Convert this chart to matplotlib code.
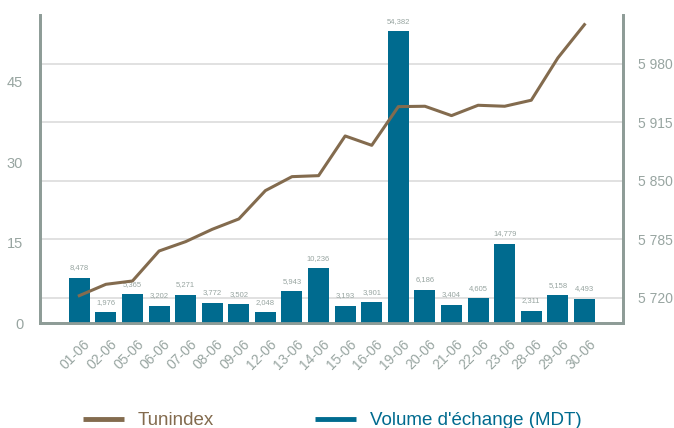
import numpy as np
import matplotlib.pyplot as plt
from matplotlib.lines import Line2D

plt.rcParams['font.family'] = ['Liberation Sans', 'DejaVu Sans']

dates = ['01-06', '02-06', '05-06', '06-06', '07-06', '08-06', '09-06', '12-06', '13-06', '14-06',
         '15-06', '16-06', '19-06', '20-06', '21-06', '22-06', '23-06', '28-06', '29-06', '30-06']
volume = [8.478, 1.976, 5.365, 3.202, 5.271, 3.772, 3.502, 2.048, 5.943, 10.236,
          3.193, 3.901, 54.382, 6.186, 3.404, 4.605, 14.779, 2.311, 5.158, 4.493]
tunindex = [5722.6, 5735.2, 5738.9, 5772.2, 5782.6, 5796.3, 5807.8, 5839.3, 5854.8, 5855.9,
            5900.0, 5889.6, 5932.6, 5933.0, 5922.6, 5934.1, 5933.0, 5939.7, 5986.7, 6023.7]
left_ticks = [0, 15, 30, 45]
right_ticks = [5720, 5785, 5850, 5915, 5980]

bar_c = '#006b8f'
line_c = '#836b4e'
spine_c = '#8e9c97'
txt_c = '#98a5a1'

fig = plt.figure(figsize=(6.74, 4.28), dpi=100)
ax = fig.add_axes([0.0593, 0.2453, 0.8650, 0.7197])
ax2 = ax.twinx()

x = np.arange(len(dates))
r_lo, r_hi = 5692.2, 6034.4
l_hi = 57.4

# gridlines follow the right axis ticks
for t in right_ticks:
    ax.axhline((t - r_lo) / (r_hi - r_lo) * l_hi, color='#dcdcdc', lw=1.2, zorder=1)

ax.bar(x, volume, width=0.79, color=bar_c, zorder=3)
for xi, v in zip(x, volume):
    ax.text(xi, v + 1.2, f'{v:,.3f}'.replace('.', ','), ha='center', va='bottom',
            fontsize=5.5, color=txt_c)

ax.set_xlim(-1.48, 20.45)
ax.set_ylim(0, l_hi)
ax.set_yticks(left_ticks)
# labels end a little right of the bar centres, as in the original
ax.set_xticks(x + 0.15)
ax.set_xticklabels(dates, rotation=45, ha='right', rotation_mode='anchor')

ax2.plot(x, tunindex, color=line_c, lw=2.2)
ax2.set_ylim(r_lo, r_hi)
ax2.set_yticks(right_ticks)
ax2.set_yticklabels([f'{t:,}'.replace(',', ' ') for t in right_ticks])

ax2.set_zorder(1)
ax.set_zorder(0)
ax2.patch.set_visible(False)
ax.patch.set_facecolor('white')

for a in (ax, ax2):
    a.spines['top'].set_visible(False)
    for s in ('left', 'right', 'bottom'):
        a.spines[s].set_color(spine_c)
        a.spines[s].set_linewidth(2)
    a.tick_params(length=0, colors=txt_c, labelsize=10.5)
ax.tick_params(axis='x', labelsize=10, pad=10)
ax.tick_params(axis='y', pad=12)
ax2.tick_params(axis='y', pad=11, labelsize=10)

handles = [Line2D([], [], color=line_c, lw=3.5, solid_capstyle='butt'),
           Line2D([], [], color=bar_c, lw=3.5, solid_capstyle='butt')]
leg = fig.legend(handles, ['Tunindex', "Volume d'échange (MDT)"], loc='center',
                 bbox_to_anchor=(0.493, 0.017), ncol=2, frameon=False, fontsize=13.5,
                 handlelength=2.15, columnspacing=5.4, handletextpad=0.75)
for txt, c in zip(leg.get_texts(), [line_c, bar_c]):
    txt.set_color(c)

fig.savefig('out.png', dpi=100)
